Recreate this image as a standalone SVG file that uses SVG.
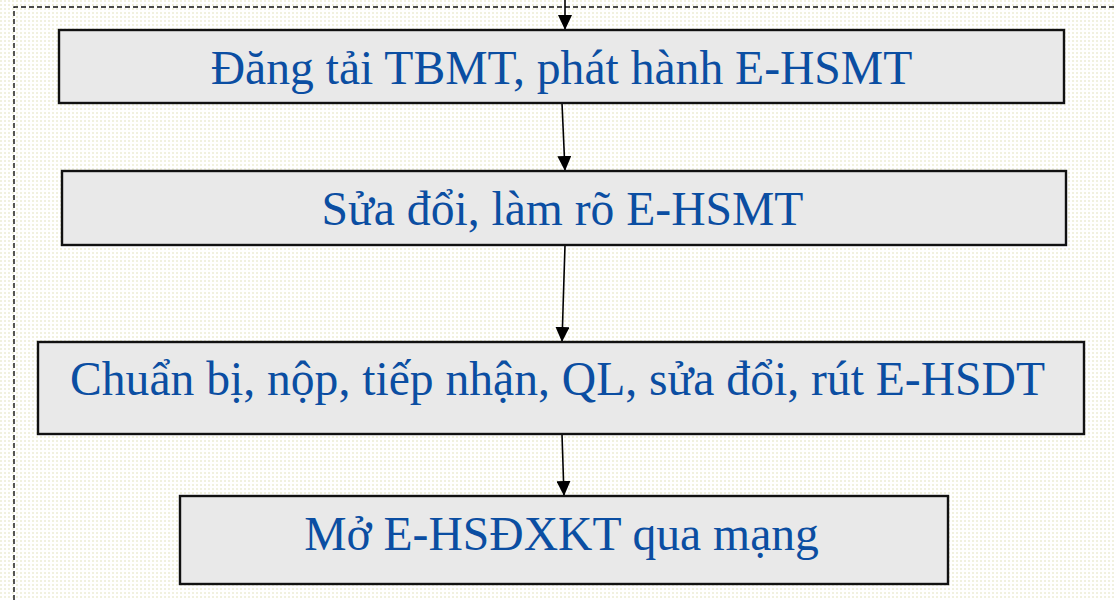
<svg xmlns="http://www.w3.org/2000/svg" width="1114" height="600" viewBox="0 0 1114 600">
  <defs>
    <pattern id="dots" width="4" height="4" patternUnits="userSpaceOnUse">
      <rect width="4" height="4" fill="#ffffff"/>
      <rect x="0" y="0" width="2" height="2" fill="#f1f1df"/>
    </pattern>
    <marker id="arrow" viewBox="0 0 15 14" refX="15" refY="7" markerWidth="15" markerHeight="14" markerUnits="userSpaceOnUse" orient="auto">
      <path d="M0,0 L15,7 L0,14 Z" fill="#000"/>
    </marker>
  </defs>
  <style>
    .box { fill: #e9e9e9; stroke: #111; stroke-width: 2.4; }
    .label { font-family: "Liberation Serif", "Times New Roman", serif; font-size: 47.6px; fill: #0b4ea2; text-anchor: middle; }
    .conn { stroke: #000; stroke-width: 1.6; fill: none; }
    .frame { fill: none; stroke: #111; stroke-width: 1.4; stroke-dasharray: 5 3; }
  </style>

  <rect width="1114" height="600" fill="url(#dots)"/>

  <!-- dashed enclosing frame -->
  <path class="frame" d="M14,600 L14,7 L1114,7"/>

  <g id="connectors">
    <line class="conn" x1="565" y1="0" x2="565" y2="30" marker-end="url(#arrow)"/>
    <line class="conn" x1="562" y1="103" x2="565" y2="171" marker-end="url(#arrow)"/>
    <line class="conn" x1="565" y1="245" x2="562" y2="342" marker-end="url(#arrow)"/>
    <line class="conn" x1="562" y1="434" x2="564" y2="496" marker-end="url(#arrow)"/>
  </g>

  <g id="node-dang-tai">
    <rect class="box" x="59" y="30" width="1005" height="73"/>
    <text class="label" x="561.5" y="84">Đăng tải TBMT, phát hành E-HSMT</text>
  </g>

  <g id="node-sua-doi">
    <rect class="box" x="62" y="171" width="1004" height="74"/>
    <text class="label" x="562.5" y="225">Sửa đổi, làm rõ E-HSMT</text>
  </g>

  <g id="node-chuan-bi">
    <rect class="box" x="38" y="342" width="1046" height="92"/>
    <text class="label" x="557.5" y="395">Chuẩn bị, nộp, tiếp nhận, QL, sửa đổi, rút E-HSDT</text>
  </g>

  <g id="node-mo">
    <rect class="box" x="180" y="496" width="768" height="88"/>
    <text class="label" x="561.5" y="550">Mở E-HSĐXKT qua mạng</text>
  </g>
</svg>
